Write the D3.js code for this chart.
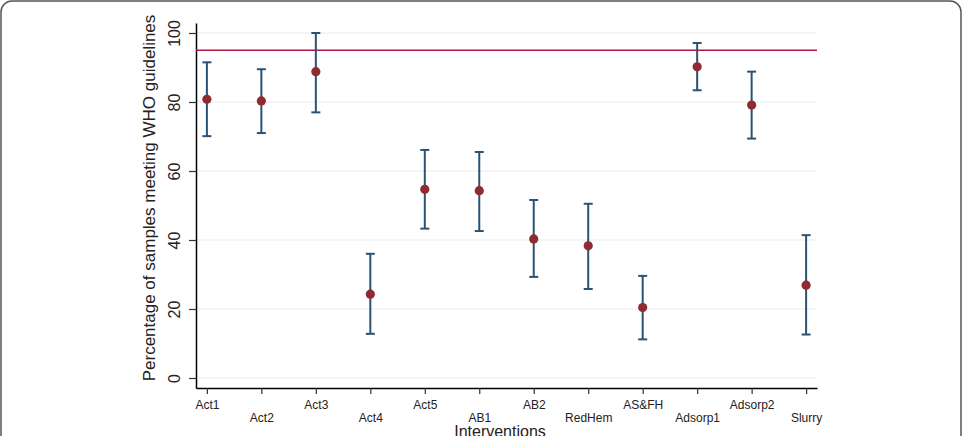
<!DOCTYPE html>
<html>
<head>
<meta charset="utf-8">
<script src="https://cdn.jsdelivr.net/npm/d3@7"></script>
<style>
  body { margin: 0; background: #fff; }
  text { font-family: "Liberation Sans", Arial, sans-serif; }
</style>
</head>
<body>
<svg id="chart" width="963" height="436"></svg>
<script>
// interventions and % of samples meeting WHO guidelines (point, lower CI, upper CI)
const categories = ["Act1", "Act2", "Act3", "Act4", "Act5", "AB1", "AB2", "RedHem", "AS&FH", "Adsorp1", "Adsorp2", "Slurry"];
const pointValues = [80.8, 80.3, 88.8, 24.3, 54.7, 54.3, 40.3, 38.3, 20.4, 90.2, 79.1, 26.9];
const lowerValues = [70.1, 71.0, 77.0, 12.8, 43.3, 42.6, 29.3, 25.8, 11.2, 83.4, 69.4, 12.6];
const upperValues = [91.5, 89.5, 100.0, 36.0, 66.1, 65.5, 51.6, 50.5, 29.6, 97.1, 88.8, 41.4];
const yTicks = [0, 20, 40, 60, 80, 100];
const guideline = 95;

const svg = d3.select("#chart");

// rounded frame round the figure
svg.append("rect")
  .attr("x", 1).attr("y", 1)
  .attr("width", 960).attr("height", 460)
  .attr("rx", 11).attr("ry", 11)
  .attr("fill", "none")
  .attr("stroke", "#555")
  .attr("stroke-width", 1.5);

const x = d3.scaleLinear().domain([-0.2, 11.2]).range([196, 817]);
const y = d3.scaleLinear().domain([-2.9, 102.9]).range([388, 23]);

// grid
svg.append("g").selectAll("line")
  .data(yTicks)
  .enter().append("line")
  .attr("x1", x(-0.2)).attr("x2", x(11.2))
  .attr("y1", d => y(d)).attr("y2", d => y(d))
  .attr("stroke", "#e8ecee")
  .attr("stroke-width", 1.2);

// y axis
const yAxis = svg.append("g")
  .attr("transform", "translate(196,0)")
  .call(d3.axisLeft(y).tickValues(yTicks).tickSize(7).tickSizeOuter(0).tickPadding(0));
yAxis.select(".domain").attr("stroke", "#000").attr("stroke-width", 1.5);
yAxis.selectAll(".tick line").attr("stroke", "#333").attr("stroke-width", 1.2);
yAxis.selectAll(".tick text")
  .attr("x", 0).attr("y", 0).attr("dy", null)
  .attr("text-anchor", "middle")
  .attr("transform", "translate(-16,0) rotate(-90)")
  .attr("font-size", 16)
  .attr("fill", "#222");

// x axis
const xAxis = svg.append("g")
  .attr("transform", "translate(0,388)")
  .call(d3.axisBottom(x).tickValues(d3.range(categories.length))
    .tickFormat(i => categories[i]).tickSize(6).tickSizeOuter(0));
xAxis.select(".domain").attr("stroke", "#000").attr("stroke-width", 1.5);
xAxis.selectAll(".tick line").attr("stroke", "#333").attr("stroke-width", 1.2);
xAxis.selectAll(".tick text")
  .attr("y", (d, i) => i % 2 === 0 ? 12 : 25)
  .attr("font-size", 12)
  .attr("fill", "#222");

// who guideline
svg.append("line")
  .attr("x1", x(-0.2)).attr("x2", x(11.2))
  .attr("y1", y(guideline)).attr("y2", y(guideline))
  .attr("stroke", "#b0164a")
  .attr("stroke-width", 1.6);

// error bars
const bars = svg.append("g").attr("stroke", "#2a5275").attr("stroke-width", 2).selectAll("g")
  .data(categories.map((c, i) => ({ i: i, lo: lowerValues[i], hi: upperValues[i] })))
  .enter().append("g");
bars.append("line")
  .attr("x1", d => x(d.i)).attr("x2", d => x(d.i))
  .attr("y1", d => y(d.lo)).attr("y2", d => y(d.hi));
bars.append("line")
  .attr("x1", d => x(d.i) - 4.5).attr("x2", d => x(d.i) + 4.5)
  .attr("y1", d => y(d.lo)).attr("y2", d => y(d.lo));
bars.append("line")
  .attr("x1", d => x(d.i) - 4.5).attr("x2", d => x(d.i) + 4.5)
  .attr("y1", d => y(d.hi)).attr("y2", d => y(d.hi));

// points
svg.append("g").selectAll("circle")
  .data(pointValues)
  .enter().append("circle")
  .attr("cx", (d, i) => x(i))
  .attr("cy", d => y(d))
  .attr("r", 4.6)
  .attr("fill", "#8e2a30");

// titles
svg.append("text")
  .attr("transform", "translate(155,198) rotate(-90)")
  .attr("text-anchor", "middle")
  .attr("font-size", 17)
  .attr("fill", "#222")
  .text("Percentage of samples meeting WHO guidelines");

svg.append("text")
  .attr("x", 500).attr("y", 437)
  .attr("text-anchor", "middle")
  .attr("font-size", 16)
  .attr("fill", "#222")
  .text("Interventions");
</script>
</body>
</html>
